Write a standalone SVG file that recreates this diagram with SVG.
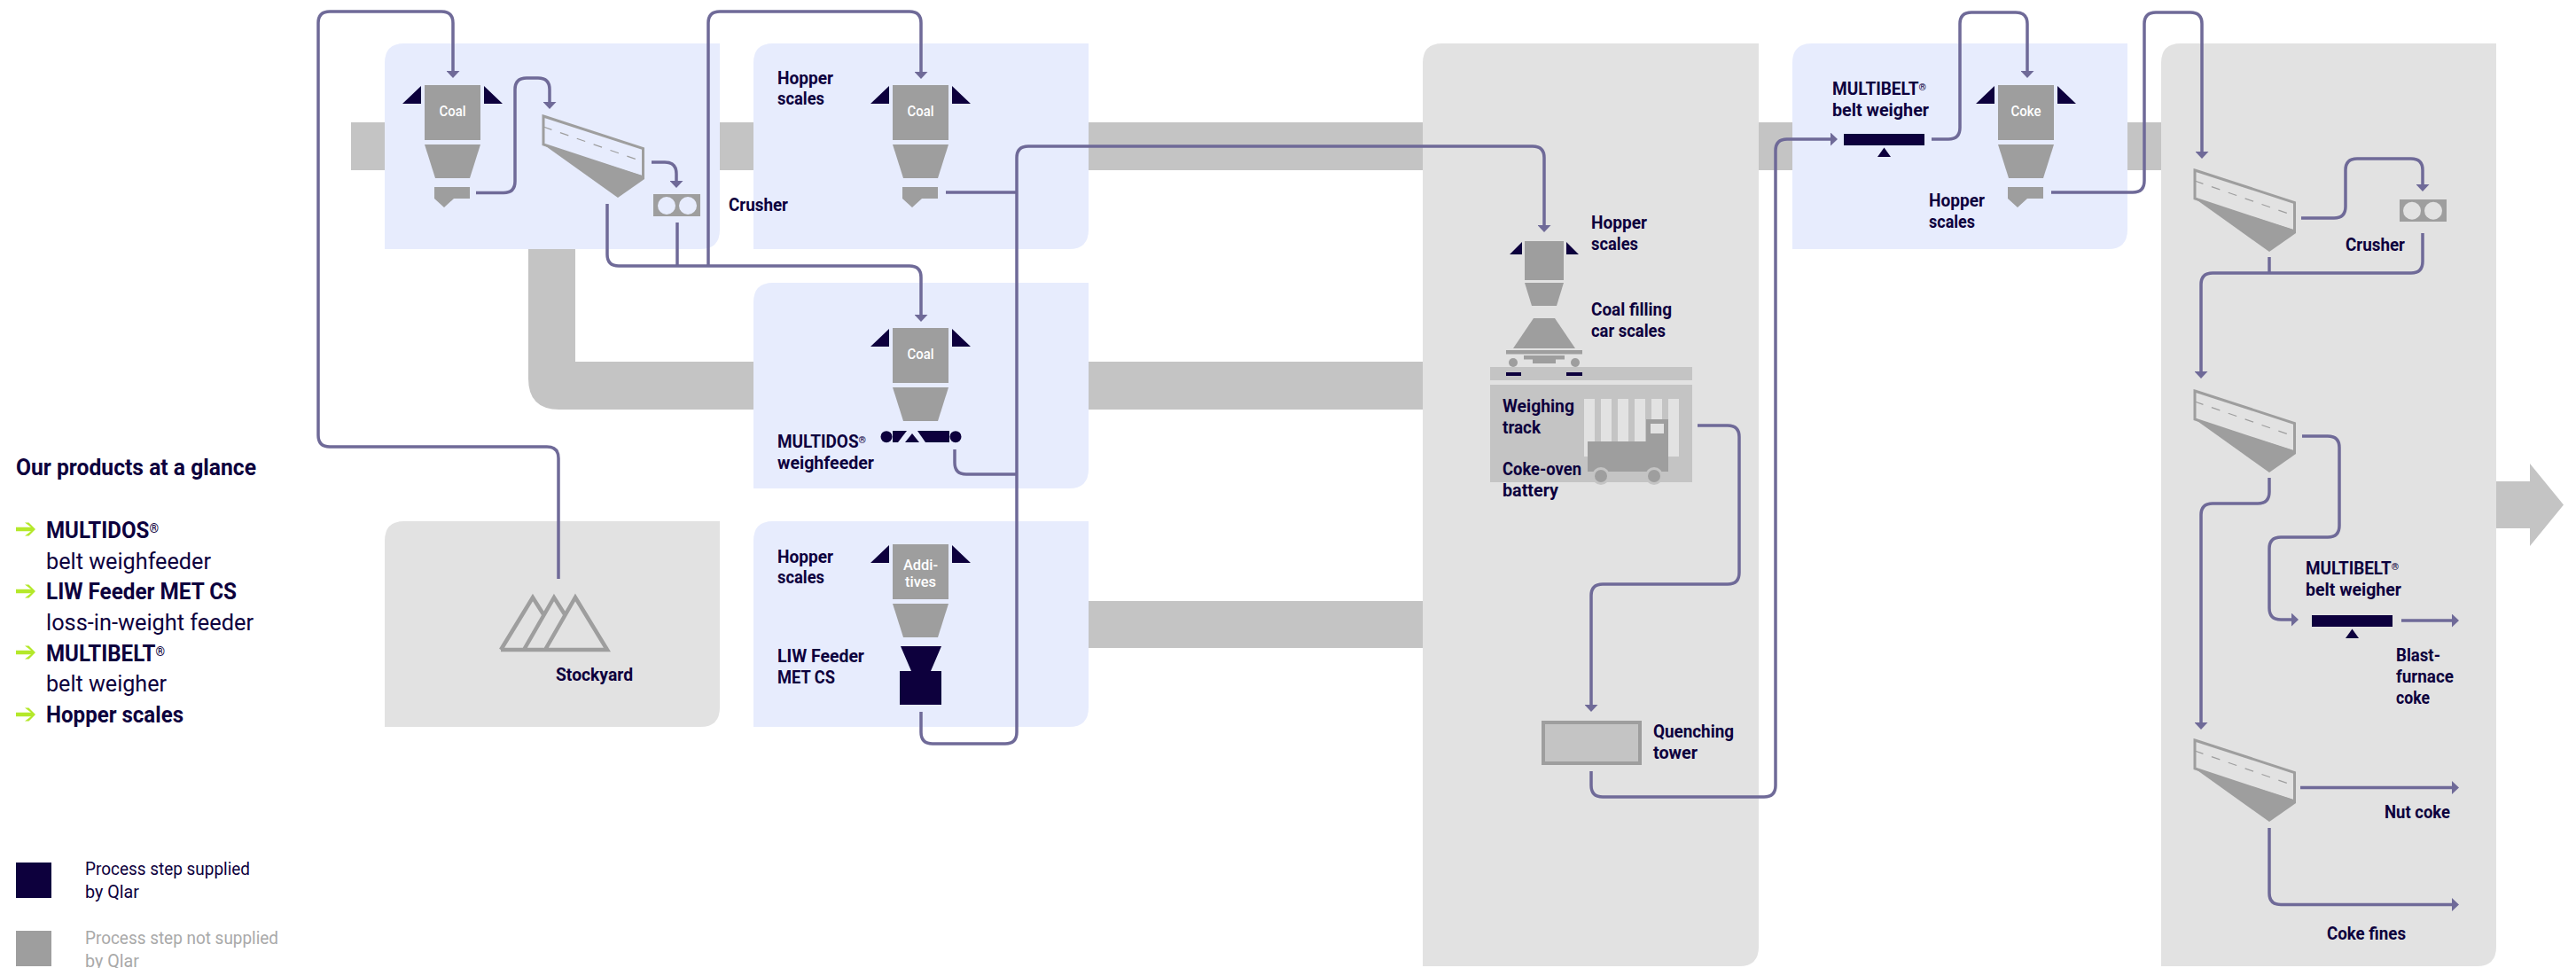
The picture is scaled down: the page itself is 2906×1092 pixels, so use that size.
<svg xmlns="http://www.w3.org/2000/svg" xmlns:xlink="http://www.w3.org/1999/xlink" width="2906" height="1092" viewBox="0 0 2906 1092">
<style>
text{font-family:Roboto,"Liberation Sans",sans-serif}
.l{font-size:19.5px;font-weight:700;fill:#0d003d}
.h{font-size:25px;font-weight:700;fill:#0d003d}
.r{font-size:25px;font-weight:400;fill:#0d003d}
.s{font-size:19.5px;font-weight:400;fill:#0d003d}
.g{font-size:19.5px;font-weight:400;fill:#a9a9a9}
.w{font-size:17px;font-weight:500;fill:#fff;text-anchor:middle}
.blue{fill:#e7ecfd}.grey{fill:#e2e2e2}.band{fill:#c4c4c4}.m{fill:#9e9e9e}.n{fill:#0d003d}.lime{fill:#b4e82a}
#connectors path{fill:none;stroke:#6f6a98;stroke-width:3.5}
.arr{marker-end:url(#ah)}
</style>
<defs>
<marker id="ah" viewBox="0 0 8 15" refX="3" refY="7.5" markerWidth="8" markerHeight="15" markerUnits="userSpaceOnUse" orient="auto"><path d="M0 0L8 7.5L0 15Z" fill="#6f6a98"/></marker>
<g id="hopper">
<rect class="m" x="-31.5" y="0" width="63" height="62"/>
<path class="m" d="M-31.5 67H31.5L19.5 105H-19.5Z"/>
<path class="n" d="M-35.5 1V21H-56.5ZM35.5 1V21H56.5Z"/>
</g>
<path id="chute" class="m" d="M-20.5 115H19.5V128H1.5L-9.5 138L-20.5 128Z"/>
<g id="screen">
<path d="M0 0L112.500 36.500V69L0 32Z" fill="none" stroke="#9e9e9e" stroke-width="3"/>
<path class="m" d="M0 32L114 68V71L84 92Z"/>
<path d="M0 12L114 52" fill="none" stroke="#9e9e9e" stroke-width="1.2" stroke-dasharray="10 10"/>
</g>
<g id="weigher"><rect class="n" x="0" y="0" width="91" height="13"/><path class="n" d="M45.500 15.500L53 26H38Z"/></g>
<path id="garrow" class="lime" d="M18 -2.200H35L28 -7.500H32.500L40 0L32.500 7.500H28L35 2.200H18Z"/>
</defs>

<g id="bands">
<rect class="band" x="396" y="138" width="2042" height="54"/>
<path class="band" d="M596 281H649V408H1605V462H631Q596 462 596 427Z"/>
<rect class="band" x="1228" y="678" width="377" height="53"/>
<path class="band" d="M2816 543H2854V523L2892 569.500L2854 616V596H2816Z"/>
</g>

<g id="panel-hopper-coal"><path class="blue" d="M872 49H1228V259Q1228 281 1206 281H850V71Q850 49 872 49Z"/>
<use xlink:href="#hopper" href="#hopper" x="1038.500" y="96"/><use xlink:href="#chute" href="#chute" x="1038.500" y="96"/>
<text class="w" x="1038.500" y="131" textLength="30" lengthAdjust="spacingAndGlyphs">Coal</text>
<text class="l" x="877" y="95" textLength="63" lengthAdjust="spacingAndGlyphs">Hopper</text>
<text class="l" x="877" y="118" textLength="53" lengthAdjust="spacingAndGlyphs">scales</text></g>

<g id="panel-coal"><path class="blue" d="M456 49H812V259Q812 281 790 281H434V71Q434 49 456 49Z"/>
<use xlink:href="#hopper" href="#hopper" x="510.500" y="96"/><use xlink:href="#chute" href="#chute" x="510.500" y="96"/>
<text class="w" x="510.500" y="131" textLength="30" lengthAdjust="spacingAndGlyphs">Coal</text>
<use xlink:href="#screen" href="#screen" x="613" y="131"/>
<rect class="m" x="737" y="219" width="53" height="25"/><circle class="blue" cx="752" cy="232" r="10"/><circle class="blue" cx="776" cy="232" r="10"/>
<text class="l" x="822" y="238" textLength="67" lengthAdjust="spacingAndGlyphs">Crusher</text></g>

<g id="panel-multidos"><path class="blue" d="M872 319H1228V529Q1228 551 1206 551H850V341Q850 319 872 319Z"/>
<use xlink:href="#hopper" href="#hopper" x="1038.500" y="370"/>
<text class="w" x="1038.500" y="405" textLength="30" lengthAdjust="spacingAndGlyphs">Coal</text>
<circle class="n" cx="1000" cy="492.700" r="6.500"/><circle class="n" cx="1078" cy="492.700" r="6.500"/>
<path class="n" d="M1007 486H1071V499H1007Z"/>
<path class="blue" d="M1023 486H1035L1044 499H1013Z"/>
<path class="n" d="M1029 489L1037 499H1021Z"/>
<text class="l" x="877" y="505" textLength="100" lengthAdjust="spacingAndGlyphs">MULTIDOS<tspan font-size="11" dy="-5">®</tspan></text>
<text class="l" x="877" y="529" textLength="109" lengthAdjust="spacingAndGlyphs">weighfeeder</text></g>

<g id="panel-additives"><path class="blue" d="M872 588H1228V798Q1228 820 1206 820H850V610Q850 588 872 588Z"/>
<use xlink:href="#hopper" href="#hopper" x="1038.500" y="614"/>
<text class="w" x="1038.500" y="643" textLength="39" lengthAdjust="spacingAndGlyphs">Addi-</text>
<text class="w" x="1038.500" y="662" textLength="35" lengthAdjust="spacingAndGlyphs">tives</text>
<path class="n" d="M1016 729H1062L1050 757H1062V795H1015V757H1028Z"/>
<text class="l" x="877" y="635" textLength="63" lengthAdjust="spacingAndGlyphs">Hopper</text>
<text class="l" x="877" y="658" textLength="53" lengthAdjust="spacingAndGlyphs">scales</text>
<text class="l" x="877" y="747" textLength="98" lengthAdjust="spacingAndGlyphs">LIW Feeder</text>
<text class="l" x="877" y="771" textLength="65" lengthAdjust="spacingAndGlyphs">MET CS</text></g>

<g id="panel-stockyard"><path class="grey" d="M456 588H812V798Q812 820 790 820H434V610Q434 588 456 588Z"/>
<path d="M565 733L601 674L613 693M591 733L625 674L637 693M615 733L649 674L685 733H565" fill="none" stroke="#9e9e9e" stroke-width="4.500"/>
<text class="l" x="627" y="768" textLength="87" lengthAdjust="spacingAndGlyphs">Stockyard</text></g>

<g id="panel-coke-oven"><path class="grey" d="M1627 49H1984V1068Q1984 1090 1962 1090H1605V71Q1605 49 1627 49Z"/>
<g id="hopper-oven">
<rect class="m" x="1720" y="272" width="44" height="44"/>
<path class="m" d="M1720 319H1764L1756 345H1728Z"/>
<path class="n" d="M1717 273V287H1703ZM1767 273V287H1781Z"/>
<text class="l" x="1795" y="258" textLength="63" lengthAdjust="spacingAndGlyphs">Hopper</text>
<text class="l" x="1795" y="282" textLength="53" lengthAdjust="spacingAndGlyphs">scales</text></g>
<g id="filling-car">
<path class="m" d="M1730 359H1754L1777 393H1707Z"/>
<rect class="m" x="1699" y="395" width="86" height="4.500"/>
<rect class="m" x="1719" y="401" width="46" height="4.500"/>
<rect class="m" x="1729" y="405" width="26" height="5"/>
<circle class="m" cx="1707" cy="409" r="5"/><circle class="m" cx="1777" cy="409" r="5"/>
<text class="l" x="1795" y="356" textLength="91" lengthAdjust="spacingAndGlyphs">Coal filling</text>
<text class="l" x="1795" y="380" textLength="84" lengthAdjust="spacingAndGlyphs">car scales</text></g>
<g id="track">
<rect class="band" x="1681" y="414" width="228" height="15"/>
<rect class="n" x="1699" y="420" width="17" height="4"/><rect class="n" x="1767" y="420" width="18" height="4"/></g>
<g id="battery">
<rect class="band" x="1681" y="434" width="228" height="110"/>
<g class="grey"><rect x="1787" y="450" width="12" height="65"/><rect x="1806" y="450" width="12" height="65"/><rect x="1825" y="450" width="12" height="65"/><rect x="1844" y="450" width="12" height="65"/><rect x="1863" y="450" width="12" height="65"/><rect x="1882" y="450" width="12" height="65"/></g>
<path class="m" d="M1791 498H1857V473H1882V532H1791Z"/>
<rect class="grey" x="1862" y="478" width="15" height="11"/>
<circle class="band" cx="1806" cy="537" r="10"/><circle class="m" cx="1806" cy="537" r="7"/>
<circle class="band" cx="1866" cy="537" r="10"/><circle class="m" cx="1866" cy="537" r="7"/>
<text class="l" x="1695" y="465" textLength="81" lengthAdjust="spacingAndGlyphs">Weighing</text>
<text class="l" x="1695" y="489" textLength="43" lengthAdjust="spacingAndGlyphs">track</text>
<text class="l" x="1695" y="536" textLength="89" lengthAdjust="spacingAndGlyphs">Coke-oven</text>
<text class="l" x="1695" y="560" textLength="63" lengthAdjust="spacingAndGlyphs">battery</text></g>
<g id="quenching">
<rect class="band" x="1741" y="815" width="109" height="46" stroke="#9e9e9e" stroke-width="4"/>
<text class="l" x="1865" y="832" textLength="91" lengthAdjust="spacingAndGlyphs">Quenching</text>
<text class="l" x="1865" y="856" textLength="50" lengthAdjust="spacingAndGlyphs">tower</text></g></g>

<g id="panel-coke-hopper"><path class="blue" d="M2044 49H2400V259Q2400 281 2378 281H2022V71Q2022 49 2044 49Z"/>
<use xlink:href="#weigher" href="#weigher" x="2080" y="151"/>
<text class="l" x="2067" y="107" textLength="106" lengthAdjust="spacingAndGlyphs">MULTIBELT<tspan font-size="11" dy="-5">®</tspan></text>
<text class="l" x="2067" y="131" textLength="109" lengthAdjust="spacingAndGlyphs">belt weigher</text>
<use xlink:href="#hopper" href="#hopper" x="2285.500" y="96"/><use xlink:href="#chute" href="#chute" x="2285.500" y="96"/>
<text class="w" x="2285.500" y="131" textLength="34" lengthAdjust="spacingAndGlyphs">Coke</text>
<text class="l" x="2176" y="233" textLength="63" lengthAdjust="spacingAndGlyphs">Hopper</text>
<text class="l" x="2176" y="257" textLength="52" lengthAdjust="spacingAndGlyphs">scales</text></g>

<g id="panel-screening"><path class="grey" d="M2460 49H2816V1068Q2816 1090 2794 1090H2438V71Q2438 49 2460 49Z"/>
<use xlink:href="#screen" href="#screen" x="2476" y="192"/>
<use xlink:href="#screen" href="#screen" x="2476" y="441"/>
<use xlink:href="#screen" href="#screen" x="2476" y="835"/>
<rect class="m" x="2707" y="225" width="53" height="25"/><circle class="grey" cx="2721" cy="237.700" r="10"/><circle class="grey" cx="2745" cy="237.700" r="10"/>
<text class="l" x="2646" y="283" textLength="67" lengthAdjust="spacingAndGlyphs">Crusher</text>
<use xlink:href="#weigher" href="#weigher" x="2608" y="694"/>
<text class="l" x="2601" y="648" textLength="105" lengthAdjust="spacingAndGlyphs">MULTIBELT<tspan font-size="11" dy="-5">®</tspan></text>
<text class="l" x="2601" y="672" textLength="108" lengthAdjust="spacingAndGlyphs">belt weigher</text>
<text class="l" x="2703" y="746" textLength="50" lengthAdjust="spacingAndGlyphs">Blast-</text>
<text class="l" x="2703" y="770" textLength="65" lengthAdjust="spacingAndGlyphs">furnace</text>
<text class="l" x="2703" y="794" textLength="38" lengthAdjust="spacingAndGlyphs">coke</text>
<text class="l" x="2690" y="923" textLength="74" lengthAdjust="spacingAndGlyphs">Nut coke</text>
<text class="l" x="2625" y="1059.500" textLength="89" lengthAdjust="spacingAndGlyphs">Coke fines</text></g>

<g id="connectors">
<path d="M630 653V517Q630 504 617 504H372Q359 504 359 491V26Q359 13 372 13H498Q511 13 511 26V83" class="arr"/>
<path d="M537 217.500H568Q581 217.500 581 204.500V101Q581 88 594 88H607Q620 88 620 101V118" class="arr"/>
<path d="M735 183H750Q763 183 763 196V207" class="arr"/>
<path d="M764 251V300"/>
<path d="M685 230V287Q685 300 698 300H1026Q1039 300 1039 313V358" class="arr"/>
<path d="M799 300V26Q799 13 812 13H1026Q1039 13 1039 26V84" class="arr"/>
<path d="M1067 217H1147"/>
<path d="M1039 803V826Q1039 839 1052 839H1134Q1147 839 1147 826V178Q1147 165 1160 165H1729Q1742 165 1742 178V257" class="arr"/>
<path d="M1077 507V522Q1077 535 1090 535H1147"/>
<path d="M1915 480H1949Q1962 480 1962 493V646Q1962 659 1949 659H1808Q1795 659 1795 672V798" class="arr"/>
<path d="M1795 870V886Q1795 899 1808 899H1990Q2003 899 2003 886V170Q2003 157 2016 157H2068" class="arr"/>
<path d="M2179 157H2198Q2211 157 2211 144V27Q2211 14 2224 14H2274Q2287 14 2287 27V83" class="arr"/>
<path d="M2314 217H2406Q2419 217 2419 204V27Q2419 14 2432 14H2471Q2484 14 2484 27V174" class="arr"/>
<path d="M2596 246H2633Q2646 246 2646 233V192Q2646 179 2659 179H2720Q2733 179 2733 192V211" class="arr"/>
<path d="M2733 263V295Q2733 308 2720 308H2496Q2483 308 2483 321V422" class="arr"/>
<path d="M2560 290V308"/>
<path d="M2597 492H2626Q2639 492 2639 505V593Q2639 606 2626 606H2573Q2560 606 2560 619V686Q2560 699 2573 699H2588" class="arr"/>
<path d="M2709 700H2769" class="arr"/>
<path d="M2560 539V555Q2560 568 2547 568H2496Q2483 568 2483 581V818" class="arr"/>
<path d="M2595 888.500H2769" class="arr"/>
<path d="M2560 934V1007.500Q2560 1020.500 2573 1020.500H2769" class="arr"/>
</g>

<g id="products">
<text class="h" x="18" y="536" textLength="271" lengthAdjust="spacingAndGlyphs">Our products at a glance</text>
<use xlink:href="#garrow" href="#garrow" x="0" y="597"/><use xlink:href="#garrow" href="#garrow" x="0" y="667"/><use xlink:href="#garrow" href="#garrow" x="0" y="736"/><use xlink:href="#garrow" href="#garrow" x="0" y="806"/>
<text class="h" x="52" y="607" textLength="127" lengthAdjust="spacingAndGlyphs">MULTIDOS<tspan font-size="14" dy="-6">®</tspan></text>
<text class="r" x="52" y="641.500" textLength="186" lengthAdjust="spacingAndGlyphs">belt weighfeeder</text>
<text class="h" x="52" y="676" textLength="215" lengthAdjust="spacingAndGlyphs">LIW Feeder MET CS</text>
<text class="r" x="52" y="711" textLength="234" lengthAdjust="spacingAndGlyphs">loss-in-weight feeder</text>
<text class="h" x="52" y="746" textLength="134" lengthAdjust="spacingAndGlyphs">MULTIBELT<tspan font-size="14" dy="-6">®</tspan></text>
<text class="r" x="52" y="780" textLength="136" lengthAdjust="spacingAndGlyphs">belt weigher</text>
<text class="h" x="52" y="815" textLength="155" lengthAdjust="spacingAndGlyphs">Hopper scales</text>
</g>
<g id="legend">
<rect class="n" x="18" y="973" width="40" height="40"/>
<text class="s" x="96" y="986.500" textLength="186" lengthAdjust="spacingAndGlyphs">Process step supplied</text>
<text class="s" x="96" y="1013" textLength="61" lengthAdjust="spacingAndGlyphs">by Qlar</text>
<rect class="m" x="18" y="1050" width="40" height="40"/>
<text class="g" x="96" y="1064.500" textLength="218" lengthAdjust="spacingAndGlyphs">Process step not supplied</text>
<text class="g" x="96" y="1091" textLength="61" lengthAdjust="spacingAndGlyphs">by Qlar</text>
</g>
</svg>
